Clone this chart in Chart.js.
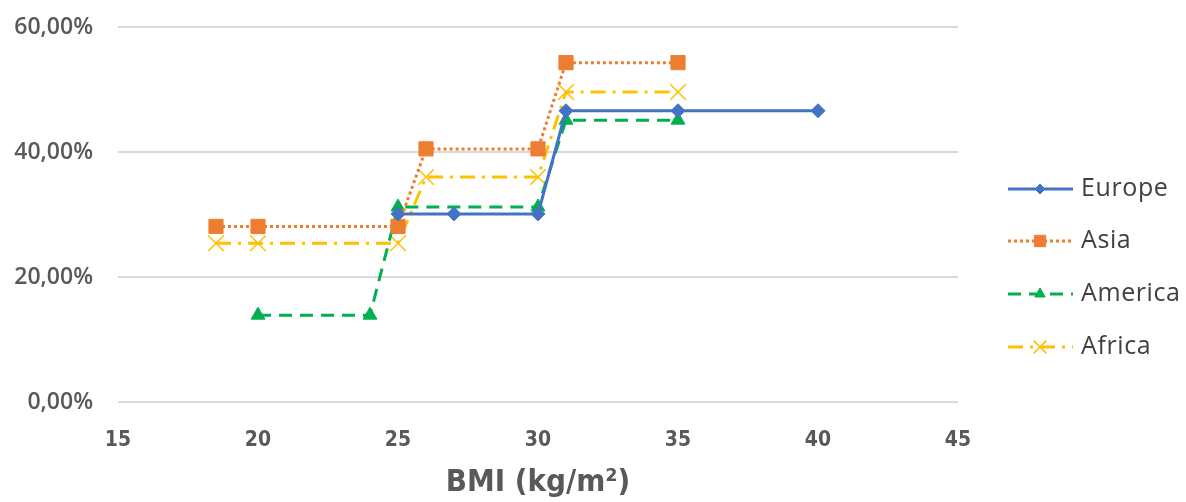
<!DOCTYPE html>
<html>
<head>
<meta charset="utf-8">
<script src="https://cdn.jsdelivr.net/npm/chart.js@4/dist/chart.umd.min.js"></script>
<style>
  html, body { margin: 0; padding: 0; background: #ffffff; }
  #wrap { width: 1186px; height: 502px; position: relative; }
</style>
</head>
<body>
<div id="wrap"><canvas id="c" width="1186" height="502"></canvas></div>
<script>
// BMI thresholds (kg/m²) and share per region
const europeX  = [25, 27, 30, 31, 35, 40];
const europeY  = [30.1, 30.1, 30.1, 46.6, 46.6, 46.6];
const asiaX    = [18.5, 20, 25, 26, 30, 31, 35];
const asiaY    = [28.1, 28.1, 28.1, 40.5, 40.5, 54.3, 54.3];
const americaX = [20, 24, 25, 30, 31, 35];
const americaY = [13.9, 13.9, 31.2, 31.2, 45.1, 45.1];
const africaX  = [18.5, 20, 25, 26, 30, 31, 35];
const africaY  = [25.4, 25.4, 25.4, 36.0, 36.0, 49.6, 49.6];

const regionNames = ['Europe', 'Asia', 'America', 'Africa'];
const xTicks = [15, 20, 25, 30, 35, 40, 45];
const yTicks = [0, 20, 40, 60];
const xTitle = 'BMI (kg/m²)';

const pairs = (xs, ys) => xs.map((x, i) => ({ x: x, y: ys[i] }));

const datasets = [
  { label: regionNames[0], data: pairs(europeX, europeY), borderColor: '#4472C4', backgroundColor: '#4472C4',
    borderWidth: 3, borderDash: [], pointStyle: 'rectRot', pointRadius: 7, pointBorderWidth: 1, order: 1 },
  { label: regionNames[1], data: pairs(asiaX, asiaY), borderColor: '#ED7D31', backgroundColor: '#ED7D31',
    borderWidth: 3, borderDash: [3, 3], pointStyle: 'rect', pointRadius: 10, pointBorderWidth: 1, order: 2 },
  { label: regionNames[2], data: pairs(americaX, americaY), borderColor: '#00B050', backgroundColor: '#00B050',
    borderWidth: 3, borderDash: [13, 8], pointStyle: 'triangle', pointRadius: 8, pointBorderWidth: 1, order: 3 },
  { label: regionNames[3], data: pairs(africaX, africaY), borderColor: '#FFC000', backgroundColor: '#FFC000',
    borderWidth: 3, borderDash: [15, 7, 3, 7], pointStyle: 'crossRot', pointRadius: 11, pointBorderWidth: 1.5, order: 4 }
];

// legend on the right: line sample with marker, then the region name
const sideLegend = {
  id: 'sideLegend',
  afterDraw(chart) {
    const ctx = chart.ctx;
    const rows = [189, 241, 294, 347];
    chart.data.datasets.forEach((ds, i) => {
      const y = rows[i];
      ctx.save();
      ctx.strokeStyle = ds.borderColor;
      ctx.lineWidth = ds.borderWidth;
      ctx.setLineDash(ds.borderDash);
      ctx.beginPath();
      ctx.moveTo(1008, y);
      ctx.lineTo(1073, y);
      ctx.stroke();
      ctx.setLineDash([]);
      ctx.fillStyle = ds.backgroundColor;
      ctx.strokeStyle = ds.borderColor;
      ctx.lineWidth = ds.pointBorderWidth;
      Chart.helpers.drawPoint(ctx, { pointStyle: ds.pointStyle, radius: ds.pointRadius - 2, borderWidth: ds.pointBorderWidth, rotation: 0 }, 1040, y);
      ctx.fillStyle = '#404040';
      ctx.font = '25px "Open Sans", "DejaVu Sans", sans-serif';
      ctx.letterSpacing = '0.6px';
      ctx.textBaseline = 'middle';
      ctx.textAlign = 'left';
      ctx.fillText(ds.label, 1081, y);
      ctx.restore();
    });
  }
};

new Chart(document.getElementById('c'), {
  type: 'line',
  data: { datasets: datasets },
  options: {
    responsive: false,
    animation: false,
    devicePixelRatio: 1,
    layout: { padding: { top: 27, right: 228, left: 0, bottom: 0 } },
    plugins: { legend: { display: false }, tooltip: { enabled: false } },
    elements: { line: { tension: 0 } },
    scales: {
      x: {
        type: 'linear', min: 15, max: 45,
        afterBuildTicks: s => { s.ticks = xTicks.map(v => ({ value: v })); },
        afterFit: s => { s.height = 100; s.paddingLeft = 0; s.paddingRight = 0; },
        grid: { display: false },
        border: { display: false },
        ticks: { padding: 18, color: '#595959', maxRotation: 0,
                 font: { family: '"Liberation Sans Narrow", "DejaVu Sans Condensed", sans-serif', size: 21, weight: 'bold' } },
        title: { display: true, text: xTitle, color: '#595959', padding: { top: 6, bottom: 0 },
                 font: { family: '"Liberation Sans Narrow", "DejaVu Sans Condensed", sans-serif', size: 31, weight: 'bold' } }
      },
      y: {
        min: 0, max: 60,
        afterBuildTicks: s => { s.ticks = yTicks.map(v => ({ value: v })); },
        afterFit: s => { s.width = 118; s.paddingTop = 0; s.paddingBottom = 0; },
        grid: { color: '#D9D9D9', lineWidth: 2, drawTicks: false },
        border: { display: false },
        ticks: { padding: 25, color: '#595959',
                 callback: v => v.toFixed(2).replace('.', ',') + '%',
                 font: { family: '"Open Sans", "DejaVu Sans", sans-serif', size: 23, weight: '600' } }
      }
    }
  },
  plugins: [sideLegend]
});
</script>
</body>
</html>
